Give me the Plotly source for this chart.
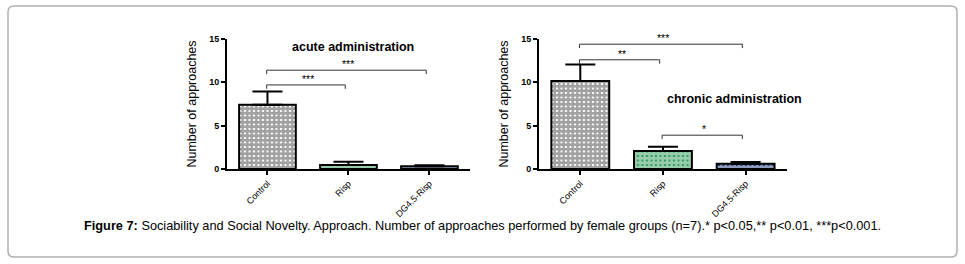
import plotly.graph_objects as go

categories = ["Control", "Risp", "DG4.5-Risp"]
acute_mean = [7.4, 0.46, 0.33]
acute_err = [1.55, 0.38, 0.1]
chronic_mean = [10.15, 2.07, 0.62]
chronic_err = [1.9, 0.5, 0.2]
y_ticks = [0, 5, 10, 15]
# brackets: (start index, end index, y level, label)
acute_brackets = [(0, 1, 9.7, "***"), (0, 2, 11.4, "***")]
chronic_brackets = [(0, 1, 12.6, "**"), (0, 2, 14.4, "***"), (1, 2, 3.9, "*")]

fill_colors = ["white", "#2f9a5a", "#23397a"]
fg_colors = ["black", "#0b2a12", "#0a0f2a"]

fig = go.Figure()

panels = [
    ("x", "y", acute_mean, acute_err, acute_brackets),
    ("x2", "y2", chronic_mean, chronic_err, chronic_brackets),
]

for xa, ya, means, errs, brackets in panels:
    fig.add_trace(go.Bar(
        x=[0, 1, 2], y=means, xaxis=xa, yaxis=ya, width=0.7,
        marker=dict(color=fill_colors, line=dict(color="black", width=2),
                    pattern=dict(shape="+", fgcolor=fg_colors, bgcolor=fill_colors,
                                 size=4.5, solidity=0.8, fillmode="overlay")),
        error_y=dict(type="data", symmetric=False, array=errs, arrayminus=[0, 0, 0],
                     color="black", thickness=2, width=15),
        showlegend=False, hoverinfo="skip",
    ))
    for (a, b, lvl, lab) in brackets:
        tick = 0.45
        fig.add_trace(go.Scatter(
            x=[a - 0.01, a - 0.01, b - 0.04, b - 0.04], y=[lvl - tick, lvl, lvl, lvl - tick],
            mode="lines", line=dict(color="#333", width=1), xaxis=xa, yaxis=ya,
            showlegend=False, hoverinfo="skip"))
        fig.add_annotation(x=(a + b) / 2, y=lvl, xref=xa, yref=ya, text=lab,
                           showarrow=False, yanchor="bottom", yshift=-2,
                           font=dict(size=10.5, color="black", family="Liberation Sans"))

axis_common = dict(showline=True, linecolor="black", linewidth=1.8, ticks="outside",
                   ticklen=4, tickwidth=1.5, tickcolor="black", showgrid=False, zeroline=False,
                   automargin=False)
ytext = [f"<b>{v}</b>" for v in y_ticks]

fig.update_layout(
    width=965, height=264, margin=dict(l=0, r=0, t=0, b=0),
    paper_bgcolor="white", plot_bgcolor="white",
    font=dict(family="Liberation Sans, Arial, sans-serif", color="black"),
    xaxis=dict(domain=[0.2352, 0.487], range=[-0.5, 2.5], tickvals=[0, 1, 2], ticktext=categories,
               tickangle=-45, tickfont=dict(size=9), anchor="y", **axis_common),
    yaxis=dict(domain=[0.3598, 0.8523], range=[0, 15], tickvals=y_ticks, ticktext=ytext, anchor="x",
               tickfont=dict(size=9),
               title=dict(text="Number of approaches", font=dict(size=12.5), standoff=10),
               **axis_common),
    xaxis2=dict(domain=[0.5585, 0.8155], range=[-0.5, 2.5], tickvals=[0, 1, 2], ticktext=categories,
                tickangle=-45, tickfont=dict(size=9), anchor="y2", **axis_common),
    yaxis2=dict(domain=[0.3598, 0.8523], range=[0, 15], tickvals=y_ticks, ticktext=ytext, anchor="x2",
                tickfont=dict(size=9),
                title=dict(text="Number of approaches", font=dict(size=12.5), standoff=10),
                **axis_common),
)

fig.add_annotation(x=1.05, y=14.1, xref="x", yref="y", text="<b>acute administration</b>",
                   showarrow=False, font=dict(size=12.5))
fig.add_annotation(x=1.87, y=8.1, xref="x2", yref="y2", text="<b>chronic administration</b>",
                   showarrow=False, font=dict(size=12.5))

fig.add_annotation(x=0.5, y=1 - 235 / 264, xref="paper", yref="paper",
                   text="<b>Figure 7:</b> Sociability and Social Novelty. Approach. Number of approaches performed by female groups (n=7).* p<0.05,** p<0.01, ***p<0.001.",
                   showarrow=False, font=dict(size=12.75, family="Liberation Sans, Arial", color="black"))

# rounded border around the figure
x0, x1 = 8 / 965, 957 / 965
y0, y1 = 1 - 257 / 264, 1 - 6 / 264
rx, ry = 6 / 965, 6 / 264
path = (f"M {x0+rx},{y1} L {x1-rx},{y1} Q {x1},{y1} {x1},{y1-ry} L {x1},{y0+ry} "
        f"Q {x1},{y0} {x1-rx},{y0} L {x0+rx},{y0} Q {x0},{y0} {x0},{y0+ry} L {x0},{y1-ry} "
        f"Q {x0},{y1} {x0+rx},{y1} Z")
fig.add_shape(type="path", path=path, xref="paper", yref="paper",
              line=dict(color="#b0b0b0", width=1.5))

fig.write_html("out.html", config={"displayModeBar": False},
               post_script="document.body.style.margin='0';document.body.style.overflow='hidden';")
